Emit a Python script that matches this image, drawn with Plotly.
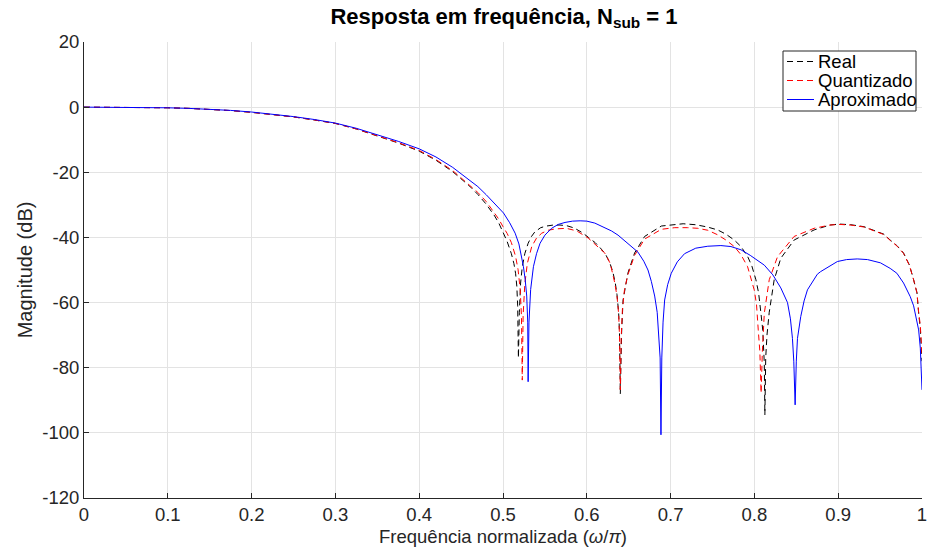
import plotly.graph_objects as go

# ---------------- data ----------------
real_x = [0, 0.025, 0.05, 0.075, 0.1, 0.125, 0.15, 0.175, 0.2, 0.225, 0.25, 0.275, 0.3, 0.325,
          0.35, 0.375, 0.4, 0.42, 0.44, 0.46, 0.47, 0.48, 0.49, 0.495,
          0.50, 0.505, 0.51, 0.513, 0.515, 0.5165, 0.5175, 0.5184, 0.5195, 0.521, 0.523, 0.526,
          0.530, 0.534, 0.538, 0.545, 0.552, 0.56, 0.568, 0.576, 0.585, 0.595, 0.602, 0.61,
          0.616, 0.622, 0.627, 0.631, 0.634, 0.636, 0.638, 0.639, 0.640, 0.6415, 0.6433, 0.649,
          0.657, 0.669, 0.689, 0.705, 0.715, 0.73, 0.744, 0.7562, 0.766, 0.776, 0.784, 0.792,
          0.797, 0.8018, 0.805, 0.8078, 0.810, 0.8118, 0.8125, 0.8135, 0.815, 0.8177, 0.8236,
          0.8315, 0.8474, 0.8712, 0.89, 0.901, 0.915, 0.9307, 0.945, 0.9544, 0.962, 0.97, 0.978,
          0.985, 0.990, 0.994, 0.996, 0.998, 1.0]
real_db = [0, -0.01, -0.05, -0.1, -0.2, -0.38, -0.6, -1.05, -1.6, -2.25, -3.0, -3.95, -5.0, -6.7,
           -8.8, -11.0, -13.5, -16.3, -19.8, -24.2, -26.8, -29.8, -33.4, -35.6,
           -38.4, -41.3, -45.0, -48.0, -51.0, -55.0, -61.0, -77.0, -63.0, -54.0, -49.0, -45.0,
           -41.8, -39.7, -38.3, -37.0, -36.5, -36.2, -36.2, -36.4, -37.1, -38.6, -40.0, -41.6,
           -43.2, -45.0, -47.5, -50.5, -54.0, -57.5, -63.0, -69.0, -88.0, -69.4, -59.2, -51.0,
           -44.8, -39.7, -36.5, -36.0, -35.8, -36.1, -36.8, -37.7, -39.0, -40.8, -42.8, -45.9,
           -48.8, -53.0, -57.0, -63.3, -68.5, -78.6, -94.5, -77.0, -70.0, -63.0, -53.0,
           -46.4, -40.8, -37.7, -36.2, -35.9, -36.1, -36.7, -38.0, -39.0, -40.8, -42.5, -44.8,
           -48.5, -53.0, -57.0, -63.3, -68.0, -78.0]

quant_x = [0, 0.025, 0.05, 0.075, 0.1, 0.125, 0.15, 0.175, 0.2, 0.225, 0.25, 0.275, 0.3, 0.325,
           0.35, 0.375, 0.4, 0.42, 0.44, 0.46, 0.47, 0.48, 0.49, 0.495,
           0.50, 0.505, 0.51, 0.515, 0.518, 0.5205, 0.522, 0.523, 0.524, 0.5245, 0.526, 0.529,
           0.5343, 0.54, 0.5462, 0.554, 0.562, 0.5756, 0.588, 0.6017, 0.612, 0.6215, 0.628,
           0.6334, 0.636, 0.638, 0.639, 0.640, 0.641, 0.6425, 0.645, 0.649, 0.657, 0.669, 0.689,
           0.705, 0.72, 0.7325, 0.7444, 0.7562, 0.766, 0.776, 0.784, 0.7919, 0.7998, 0.8025,
           0.8046, 0.8065, 0.808, 0.8095, 0.8118, 0.8177, 0.8276, 0.8474, 0.8712, 0.89, 0.901,
           0.915, 0.9307, 0.945, 0.9544, 0.962, 0.97, 0.978, 0.985, 0.990, 0.994, 0.996, 0.998, 1.0]
quant_db = [0, -0.01, -0.05, -0.1, -0.2, -0.38, -0.6, -1.05, -1.6, -2.25, -3.0, -3.95, -5.0, -6.7,
            -8.7, -10.9, -13.3, -16.1, -19.5, -23.8, -26.2, -29.0, -32.4, -34.4,
            -36.7, -38.8, -41.6, -45.8, -49.9, -55.9, -64.0, -83.8, -64.0, -60.4, -54.4, -48.0,
            -42.8, -40.2, -38.7, -37.8, -37.4, -37.2, -38.0, -40.2, -42.5, -44.8, -48.0,
            -54.0, -58.0, -63.5, -70.0, -86.8, -71.0, -62.0, -56.0, -51.5, -45.5, -40.5, -37.5,
            -37.0, -37.0, -37.2, -37.8, -39.2, -40.8, -42.8, -45.3, -49.0, -56.1, -60.5,
            -68.4, -75.0, -87.8, -75.0, -63.3, -53.0, -45.9, -39.7, -37.2, -36.2, -36.0,
            -36.2, -36.8, -38.1, -39.1, -40.9, -42.6, -44.9, -48.6, -53.0, -57.0, -63.0, -67.0, -76.0]

aprox_x = [0, 0.025, 0.05, 0.075, 0.1, 0.125, 0.15, 0.175, 0.2, 0.225, 0.25, 0.275, 0.3, 0.325,
           0.35, 0.375, 0.4, 0.42, 0.44, 0.46, 0.47, 0.48, 0.49, 0.5006,
           0.508, 0.5145, 0.519, 0.522, 0.5244, 0.5265, 0.5283, 0.5295, 0.530, 0.531, 0.533, 0.5363,
           0.540, 0.5442, 0.55, 0.558, 0.566, 0.574, 0.583, 0.592, 0.6, 0.6096, 0.62, 0.6294,
           0.6373, 0.645, 0.653, 0.661, 0.668, 0.673, 0.677, 0.681, 0.684, 0.686, 0.6875, 0.6885,
           0.6895, 0.691, 0.6929, 0.6965, 0.7008, 0.708, 0.7166, 0.73, 0.7444, 0.76, 0.772, 0.784,
           0.795, 0.8118, 0.822, 0.8315, 0.8395, 0.843, 0.8454, 0.847, 0.8486, 0.850, 0.8514,
           0.8553, 0.8593, 0.8633, 0.8751, 0.879, 0.899, 0.91, 0.9227, 0.935, 0.9465, 0.9504, 0.962,
           0.970, 0.978, 0.986, 0.990, 0.993, 0.996, 0.998, 1.0]
aprox_db = [0, -0.01, -0.05, -0.1, -0.2, -0.38, -0.6, -1.0, -1.5, -2.15, -2.9, -3.8, -4.9, -6.5,
            -8.5, -10.5, -12.8, -15.3, -18.5, -22.3, -24.4, -26.9, -29.5, -32.5,
            -35.5, -38.7, -42.0, -45.5, -49.0, -53.0, -58.0, -66.0, -84.3, -66.0, -56.0, -49.0,
            -45.0, -41.8, -39.3, -37.2, -36.0, -35.4, -35.0, -34.9, -35.0, -35.6, -36.8, -38.0,
            -39.3, -41.0, -43.0, -44.5, -47.3, -50.0, -53.5, -58.0, -63.0, -69.5, -77.0, -100.6,
            -77.0, -66.0, -59.2, -54.5, -51.0, -47.5, -45.0, -43.3, -42.7, -42.5, -42.8, -43.8,
            -45.5, -48.5, -51.5, -55.5, -60.0, -65.0, -71.0, -78.0, -91.4, -78.0, -71.0,
            -64.3, -59.5, -56.1, -51.3, -50.5, -47.4, -46.8, -46.6, -46.8, -47.4, -47.8, -49.5,
            -51.0, -54.0, -58.2, -61.0, -64.5, -68.4, -74.0, -86.8]

series_names = ["Real", "Quantizado", "Aproximado"]
series_colors = ["#000000", "#ff0000", "#0000ff"]
series_dash = ["6px,4px", "6px,4px", "solid"]
x_ticks = [0, 0.1, 0.2, 0.3, 0.4, 0.5, 0.6, 0.7, 0.8, 0.9, 1]
x_tick_labels = ["0", "0.1", "0.2", "0.3", "0.4", "0.5", "0.6", "0.7", "0.8", "0.9", "1"]
y_ticks = [20, 0, -20, -40, -60, -80, -100, -120]
y_tick_labels = ["20", "0", "-20", "-40", "-60", "-80", "-100", "-120"]

# ---------------- figure ----------------
FONT = "Liberation Sans, Arial, Helvetica, sans-serif"
AX = "#262626"
ML, MR, MT, MB = 84, 6, 42, 52
PW, PH = 928 - ML - MR, 550 - MT - MB

fig = go.Figure()
for xs, ys, nm, col, dsh in zip([real_x, quant_x, aprox_x], [real_db, quant_db, aprox_db],
                                series_names, series_colors, series_dash):
    fig.add_trace(go.Scatter(x=xs, y=ys, mode="lines", name=nm, showlegend=False,
                             line=dict(color=col, width=1, dash=dsh)))

axis_common = dict(
    showgrid=True, gridcolor="#e3e3e3", gridwidth=1,
    showline=True, linecolor=AX, linewidth=1,
    ticks="inside", ticklen=5, tickcolor=AX,
    zeroline=False, mirror=False, automargin=False,
    tickfont=dict(family=FONT, size=18.5, color=AX),
)

fig.update_layout(
    width=928, height=550,
    margin=dict(l=ML, r=MR, t=MT, b=MB, autoexpand=False),
    paper_bgcolor="white", plot_bgcolor="white",
    title=dict(text="<b>Resposta em frequência, N<sub>sub</sub> = 1</b>",
               x=504 / 928, xanchor="center", y=0.985, yanchor="top",
               font=dict(family=FONT, size=22, color="#000000")),
    xaxis=dict(range=[0, 1], tickvals=x_ticks, ticktext=x_tick_labels,
               ticklabeloverflow="allow",
               title=dict(text="Frequência normalizada (<i>ω</i>/<i>π</i>)",
                          font=dict(family=FONT, size=18.5, color=AX), standoff=5),
               **axis_common),
    yaxis=dict(range=[-120, 20], tickvals=y_ticks, ticktext=y_tick_labels,
               title=dict(text="Magnitude (dB)",
                          font=dict(family=FONT, size=20, color=AX), standoff=4),
               **axis_common),
    showlegend=False,
)

# ---------------- legend box (drawn in plot-area paper coordinates) ----------------
def px_x(p):
    return (p - ML) / PW


def px_y(p):
    return (MT + PH - p) / PH


fig.add_shape(type="rect", xref="paper", yref="paper",
              x0=px_x(783), x1=px_x(916), y0=px_y(111), y1=px_y(51),
              line=dict(color=AX, width=1), fillcolor="white", layer="above")
row_y = [61.5, 80.5, 99.5]
for ry, nm, col, dsh in zip(row_y, series_names, series_colors, series_dash):
    fig.add_shape(type="line", xref="paper", yref="paper",
                  x0=px_x(787), x1=px_x(814), y0=px_y(ry), y1=px_y(ry),
                  line=dict(color=col, width=1, dash=dsh), layer="above")
    fig.add_annotation(text=nm, xref="paper", yref="paper", x=px_x(815.5), y=px_y(ry),
                       xanchor="left", yanchor="middle", showarrow=False,
                       font=dict(family=FONT, size=18.5, color="#000000"))

fig.write_html("out.html")
